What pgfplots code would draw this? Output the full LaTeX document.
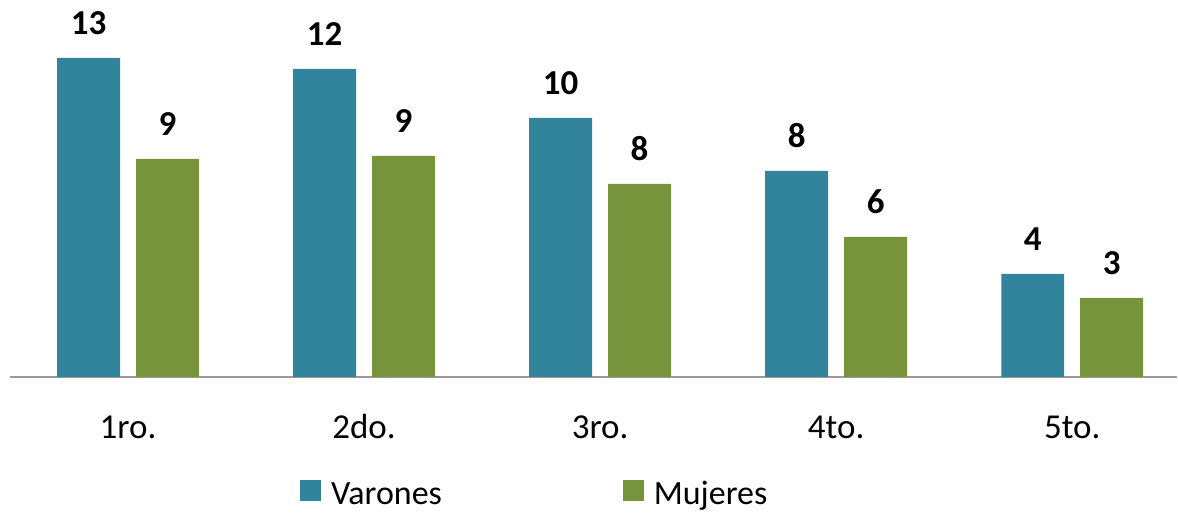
\documentclass[border=0pt]{standalone}
\usepackage{pgfplots}
\pgfplotsset{compat=1.18}
\usepackage{fontspec}
\setmainfont{Carlito}
\definecolor{varon}{HTML}{31849B}
\definecolor{mujer}{HTML}{77933C}
\begin{document}
\begin{tikzpicture}[x=1pt,y=1pt]
\begin{axis}[
  scale only axis,
  width=1168pt, height=350pt,
  xmin=-0.5, xmax=4.445,
  ymin=0, ymax=14,
  clip=false,
  ybar=16pt, bar width=63pt,
  axis x line*=bottom,
  axis y line=none,
  x axis line style={draw=gray!80, line width=1.5pt, -},
  xtick={0,1,2,3,4},
  xticklabels={1ro.,2do.,3ro.,4to.,5to.},
  xtick style={draw=none},
  xticklabel style={font=\fontsize{35}{40}\selectfont, inner sep=0pt, anchor=base, yshift=-57pt},
  nodes near coords,
  nodes near coords style={font=\fontsize{35}{40}\selectfont\bfseries, anchor=south, inner sep=0pt, yshift=23pt,
    /pgf/number format/.cd, fixed, precision=0, assume math mode=true},
  legend columns=2,
  legend style={draw=none, fill=none, inner sep=0pt, at={(0.2483,-0.333)}, anchor=west,
    font=\fontsize{34}{40}\selectfont,
    nodes={inner sep=0pt},
    column sep=10pt,
    /tikz/every even column/.append style={column sep=181pt}},
]
\addplot[fill=varon, draw=none, legend image code/.code={\fill[varon] (0pt,-7pt) rectangle (21pt,14pt);}]
  coordinates {(0,12.76) (1,12.32) (2,10.36) (3,8.24) (4,4.12)};
\addplot[fill=mujer, draw=none, legend image code/.code={\fill[mujer] (0pt,-7pt) rectangle (21pt,14pt);}]
  coordinates {(0,8.72) (1,8.84) (2,7.72) (3,5.6) (4,3.16)};
\legend{Varones,Mujeres}
\path (rel axis cs:0,0) ++(-10pt,-136pt) coordinate (bbA);
\path (rel axis cs:1,1) ++(0pt,27pt) coordinate (bbB);
\path (bbA) rectangle (bbB);
\end{axis}
\end{tikzpicture}
\end{document}
